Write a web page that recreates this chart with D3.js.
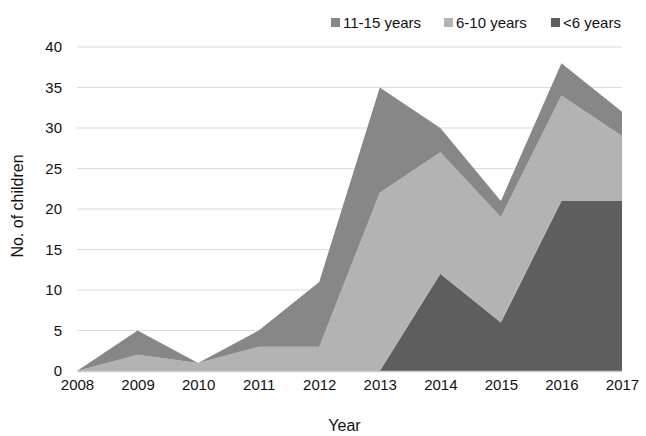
<!DOCTYPE html>
<html>
<head>
<meta charset="utf-8">
<script src="https://cdn.jsdelivr.net/npm/d3@7"></script>
<style>
  body { margin: 0; background: #fff; }
  svg text { font-family: "Liberation Sans", Arial, sans-serif; fill: #111; }
</style>
</head>
<body>
<div id="chart"></div>
<script>
// data (stacked counts)
const years = [2008, 2009, 2010, 2011, 2012, 2013, 2014, 2015, 2016, 2017];
const under6 = [0, 0, 0, 0, 0, 0, 12, 6, 21, 21];
const age6to10 = [0, 2, 1, 3, 3, 22, 15, 13, 13, 8];
const age11to15 = [0, 3, 0, 2, 8, 13, 3, 2, 4, 3];
const yTicks = [0, 5, 10, 15, 20, 25, 30, 35, 40];

const seriesKeys = ["u6", "a610", "a1115"];
const seriesNames = { u6: "<6 years", a610: "6-10 years", a1115: "11-15 years" };
const colors = { u6: "#5e5e5e", a610: "#b3b3b3", a1115: "#878787" };
const legendOrder = ["a1115", "a610", "u6"];

const rows = years.map((y, i) => ({ year: y, u6: under6[i], a610: age6to10[i], a1115: age11to15[i] }));

const W = 646, H = 436;
const margin = { top: 47, right: 24, bottom: 65, left: 77 };
const width = W - margin.left - margin.right;
const height = H - margin.top - margin.bottom;

const svg = d3.select("#chart").append("svg")
  .attr("width", W).attr("height", H);

const g = svg.append("g").attr("transform", `translate(${margin.left},${margin.top})`);

const x = d3.scaleLinear().domain([2008, 2017]).range([0, width]);
const y = d3.scaleLinear().domain([0, 40]).range([height, 0]);

// gridlines
g.append("g")
  .selectAll("line")
  .data(yTicks)
  .join("line")
  .attr("x1", 0).attr("x2", width)
  .attr("y1", d => y(d)).attr("y2", d => y(d))
  .attr("stroke", "#dcdcdc").attr("stroke-width", 1.2);

// stacked areas
const stack = d3.stack().keys(seriesKeys);
const layers = stack(rows);

const area = d3.area()
  .x(d => x(d.data.year))
  .y0(d => y(d[0]))
  .y1(d => y(d[1]));

g.append("g")
  .selectAll("path")
  .data(layers)
  .join("path")
  .attr("d", area)
  .attr("fill", d => colors[d.key]);

// axes
const yAxis = d3.axisLeft(y).tickValues(yTicks).tickSize(0).tickPadding(15);
const gy = g.append("g").call(yAxis);
gy.select(".domain").remove();
gy.selectAll("text").style("font-size", "15px");

const xAxis = d3.axisBottom(x).tickValues(years).tickFormat(d3.format("d")).tickSize(0).tickPadding(8);
const gx = g.append("g").attr("transform", `translate(0,${height})`).call(xAxis);
gx.select(".domain").attr("stroke", "#cfcfcf").attr("stroke-width", 1.5);
gx.selectAll("text").style("font-size", "15px");

// axis titles
svg.append("text")
  .attr("x", margin.left + width / 2 - 5).attr("y", 431)
  .attr("text-anchor", "middle")
  .style("font-size", "16px")
  .text("Year");

svg.append("text")
  .attr("transform", `translate(23,${margin.top + height / 2 - 3}) rotate(-90)`)
  .attr("text-anchor", "middle")
  .style("font-size", "16px")
  .text("No. of children");

// legend
const legendX = [331, 444, 551];
const legend = svg.append("g");
legendOrder.forEach((k, i) => {
  const lg = legend.append("g").attr("transform", `translate(${legendX[i]},18)`);
  lg.append("rect").attr("width", 9).attr("height", 9).attr("fill", colors[k]);
  lg.append("text").attr("x", 12).attr("y", 10).style("font-size", "15px").text(seriesNames[k]);
});
</script>
</body>
</html>
